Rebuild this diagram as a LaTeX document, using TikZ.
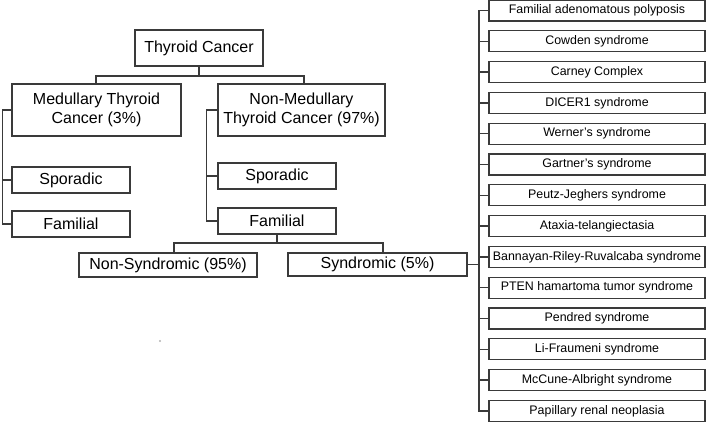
\documentclass[tikz,border=0pt]{standalone}
\usepackage{fontspec}
\setmainfont{Liberation Sans}
\usetikzlibrary{calc}
\definecolor{edge}{HTML}{3A3A3A}
\begin{document}
\begin{tikzpicture}[x=1pt,y=-1pt,
  box/.style={draw=edge,line width=1.3pt,fill=white,inner sep=0pt,align=center,font=\fontsize{16}{19}\selectfont},
  lbox/.style={draw=edge,line width=1.3pt,fill=white,inner sep=0pt,minimum width=216pt,minimum height=21pt,font=\fontsize{12.4}{14}\selectfont},
  conn/.style={draw=edge,line width=1.3pt}]
\useasboundingbox (0,0) rectangle (709,423);
\node[box,minimum width=128pt,minimum height=36pt] (tc) at (199,48) {Thyroid Cancer};
\node[box,minimum width=169pt,minimum height=52pt] (mtc) at (96.5,110) {Medullary Thyroid\\Cancer (3\%)};
\node[box,minimum width=167pt,minimum height=52pt] (nmtc) at (301.5,110) {Non-Medullary\\Thyroid Cancer (97\%)};
\node[box,minimum width=118pt,minimum height=26pt] (lspor) at (71,180) {Sporadic};
\node[box,minimum width=118pt,minimum height=26pt] (lfam) at (71,224) {Familial};
\node[box,minimum width=118pt,minimum height=26pt] (rspor) at (277,176) {Sporadic};
\node[box,minimum width=118pt,minimum height=26pt] (rfam) at (277,221) {Familial};
\node[box,minimum width=178pt,minimum height=24pt] (nonsyn) at (168,265) {Non-Syndromic (95\%)};
\node[box,minimum width=179pt,minimum height=23pt] (syn) at (377.5,264.5) {Syndromic (5\%)};
\foreach \t [count=\i] in {Familial adenomatous polyposis,Cowden syndrome,Carney Complex,DICER1 syndrome,Werner’s syndrome,Gartner’s syndrome,Peutz-Jeghers syndrome,Ataxia-telangiectasia,Bannayan-Riley-Ruvalcaba syndrome,PTEN hamartoma tumor syndrome,Pendred syndrome,Li-Fraumeni syndrome,McCune-Albright syndrome,Papillary renal neoplasia}
  {\node[lbox] (s\i) at (597,{10.5+30.8*(\i-1)}) {\t};}
% top tree
\coordinate (j1) at (199,76);
\draw[conn] (tc.south) -- (j1);
\draw[conn] ([xshift=-0.5pt]mtc.north) |- (j1) -| ([xshift=2.5pt]nmtc.north);
% left bracket
\coordinate (bl) at ($(mtc.west)+(-9,0)$);
\draw[conn] (mtc.west) -- (bl) |- (lspor.west);
\draw[conn] (bl) |- (lfam.west);
% right bracket
\coordinate (br) at ($(nmtc.west)+(-11,0)$);
\draw[conn] (nmtc.west) -- (br) |- (rspor.west);
\draw[conn] (br) |- (rfam.west);
% familial split
\coordinate (j2) at (277,243);
\draw[conn] (rfam.south) -- (j2);
\draw[conn] ([xshift=6pt]nonsyn.north) |- (j2) -| ([xshift=5.5pt]syn.north);
% syndromic list
\coordinate (bs) at (479,264.5);
\draw[conn] (syn.east) -- (bs);
\draw[conn] (s1.west) -- (s1.west -| bs) -- (s14.west -| bs) -- (s14.west);
\foreach \i in {2,...,13} {\draw[conn] (s\i.west) -- (s\i.west -| bs);}
\fill[gray!60] (160,341) circle (1.2pt);
\end{tikzpicture}
\end{document}
